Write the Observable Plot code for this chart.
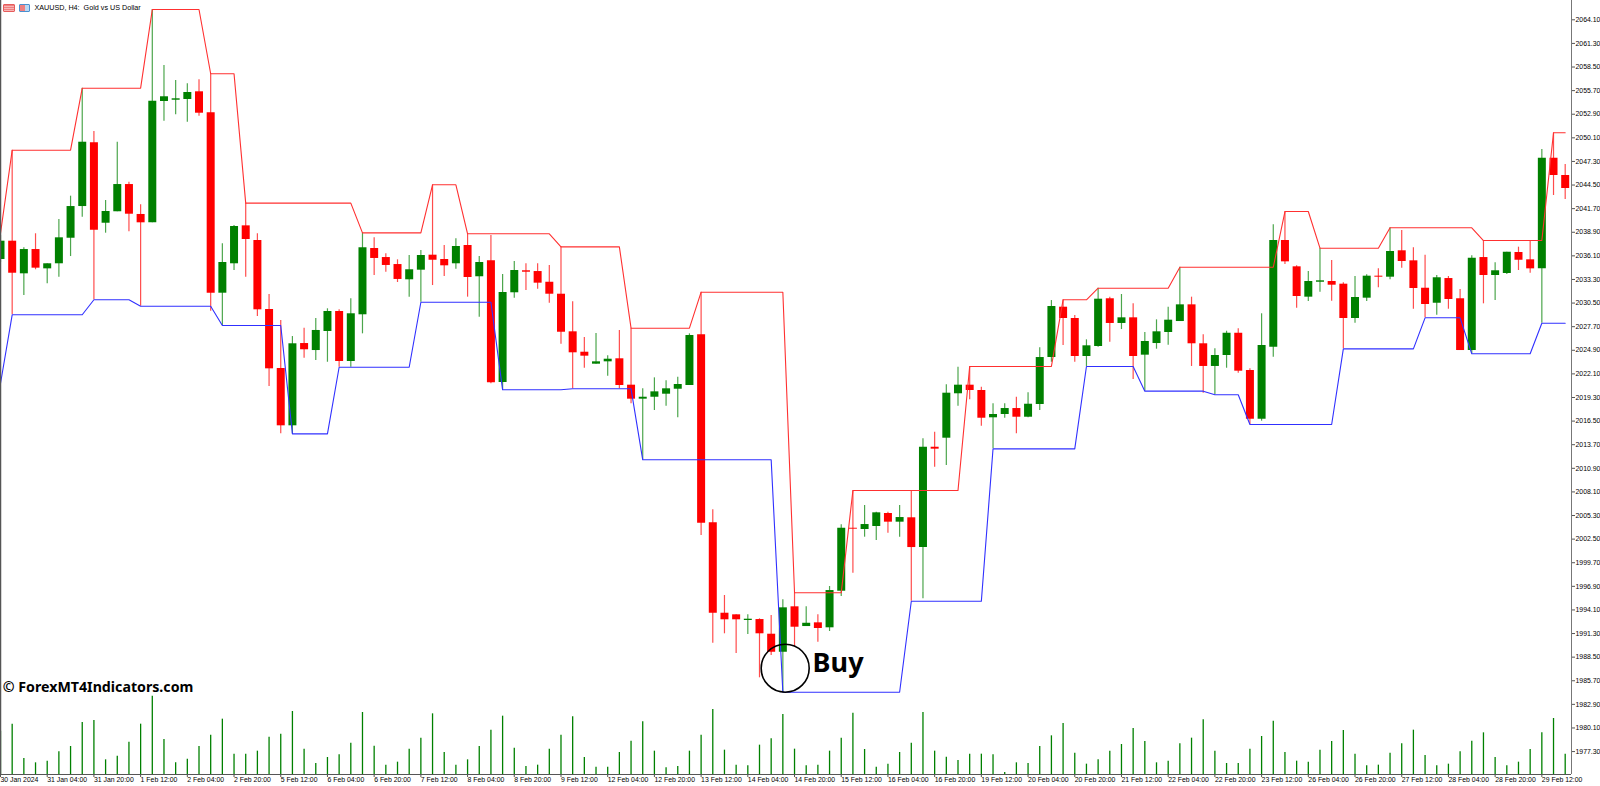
<!DOCTYPE html>
<html><head><meta charset="utf-8">
<script src="https://cdn.jsdelivr.net/npm/d3@7"></script>
<script src="https://cdn.jsdelivr.net/npm/@observablehq/plot@0.6"></script>
<style>
html,body{margin:0;padding:0;background:#fff;overflow:hidden}
#wrap{position:relative;width:1600px;height:786px}
#wrap svg{display:block}
.ico{position:absolute;top:4px;height:8px;border-radius:1px;background:repeating-linear-gradient(180deg,#ef7f7f 0 1px,#f7b5b5 1px 2px);border:1px solid #e65c5c;box-sizing:border-box}
.ico.b{border-color:#4a90d0;background:linear-gradient(90deg,#ef7f7f 0 50%,#bcd8f2 50% 100%)}
</style></head><body>
<div id="wrap"><div class="ico" style="left:3px;width:12px"></div><div class="ico b" style="left:19px;width:11px"></div></div>
<script>
const opens=[2035.67,2037.84,2033.97,2036.85,2034.56,2035.16,2038.19,2041.95,2049.51,2039.97,2041.33,2044.56,2041.01,2040.02,2054.41,2054.56,2054.65,2055.56,2053.07,2031.67,2035.16,2039.66,2037.92,2029.74,2022.74,2015.94,2025.70,2024.87,2027.13,2029.50,2023.57,2029.11,2036.97,2035.90,2035.07,2033.26,2034.40,2036.18,2035.67,2035.16,2037.33,2033.62,2035.51,2021.08,2031.72,2034.33,2034.24,2032.97,2031.55,2027.09,2024.67,2023.25,2023.53,2023.89,2020.76,2019.10,2019.33,2019.69,2020.28,2020.72,2026.74,2004.43,1993.71,1993.52,1992.85,1992.96,1991.22,1989.08,1994.47,1992.13,1992.57,1991.98,1996.32,2003.79,2003.64,2004.00,2005.54,2004.51,2005.03,2001.50,2013.40,2014.47,2019.74,2020.76,2020.13,2016.89,2017.28,2017.99,2016.96,2018.47,2024.04,2030.01,2028.67,2024.16,2025.35,2031.01,2028.08,2028.75,2024.32,2025.70,2027.01,2028.31,2030.29,2025.67,2022.98,2024.28,2026.92,2022.50,2016.72,2025.26,2037.92,2034.80,2031.20,2032.97,2033.06,2032.74,2028.67,2031.08,2033.69,2033.57,2036.70,2035.51,2032.26,2030.48,2033.41,2031.01,2024.87,2035.90,2033.77,2034.01,2036.50,2035.63,2034.56,2047.68,2045.63];
const closes=[2037.84,2034.04,2036.85,2034.64,2035.16,2038.24,2041.95,2049.58,2039.14,2041.36,2044.56,2041.04,2040.02,2054.44,2054.97,2054.73,2055.48,2053.02,2031.67,2035.31,2039.58,2038.04,2029.70,2022.70,2015.94,2025.67,2024.96,2027.25,2029.50,2023.57,2029.23,2037.06,2035.79,2034.96,2033.30,2034.45,2036.14,2035.58,2034.92,2037.21,2033.53,2035.31,2021.04,2031.75,2034.36,2034.16,2032.86,2031.55,2027.04,2024.60,2024.20,2023.53,2023.84,2020.72,2019.10,2019.33,2019.97,2020.33,2020.84,2026.65,2004.39,1993.71,1992.93,1992.93,1993.00,1991.27,1989.08,1994.35,1992.05,1992.52,1991.90,1996.40,2003.79,2003.68,2004.23,2005.62,2004.51,2005.06,2001.50,2013.40,2013.17,2019.81,2020.76,2020.13,2016.84,2017.28,2017.99,2016.96,2018.50,2024.04,2030.09,2028.67,2024.16,2025.43,2030.96,2028.08,2028.75,2024.16,2025.94,2027.09,2028.47,2030.29,2025.67,2022.98,2024.28,2026.92,2022.42,2016.72,2025.47,2037.92,2035.39,2031.28,2033.06,2033.14,2032.62,2028.67,2031.16,2033.69,2033.57,2036.62,2035.43,2032.23,2030.33,2033.50,2030.92,2024.87,2035.82,2033.77,2034.33,2036.53,2035.58,2034.56,2047.68,2045.63,2044.09];
const highs=[2038.51,2048.63,2037.06,2038.72,2035.16,2040.41,2043.18,2055.99,2050.85,2042.67,2049.58,2044.84,2042.16,2065.32,2058.68,2056.90,2056.51,2056.98,2057.70,2037.53,2039.70,2042.35,2038.72,2031.52,2028.43,2026.53,2027.52,2028.67,2029.82,2029.70,2031.01,2038.83,2038.24,2036.34,2035.63,2036.14,2036.73,2044.53,2037.33,2038.12,2038.72,2036.02,2038.51,2033.89,2035.43,2035.16,2035.16,2034.96,2037.17,2030.65,2026.42,2026.89,2024.24,2027.25,2027.52,2020.33,2021.63,2021.28,2021.71,2026.85,2031.79,2005.98,1995.81,1993.52,1993.52,1993.05,1993.44,1995.30,1996.13,1994.47,1993.52,1996.88,2004.20,2008.27,2006.49,2005.69,2005.69,2006.49,2008.27,2014.40,2015.18,2020.80,2022.89,2022.98,2020.52,2018.55,2018.55,2019.33,2019.86,2025.19,2030.80,2030.89,2029.02,2026.14,2032.26,2031.20,2031.52,2030.41,2027.01,2028.51,2030.01,2034.75,2031.20,2026.74,2025.07,2027.16,2027.45,2022.70,2029.23,2039.78,2041.36,2034.92,2034.24,2037.01,2035.55,2032.90,2033.65,2033.85,2034.56,2039.43,2039.11,2037.06,2036.18,2033.77,2033.65,2032.11,2036.11,2037.92,2035.28,2036.53,2037.13,2037.92,2048.72,2050.70,2046.94];
const lows=[2035.31,2029.11,2031.40,2034.45,2032.79,2033.57,2036.02,2040.68,2030.89,2038.79,2041.33,2038.95,2030.13,2040.02,2052.07,2052.83,2051.95,2052.67,2029.53,2027.84,2034.36,2033.57,2028.91,2020.60,2014.99,2014.99,2023.96,2023.69,2023.48,2022.89,2022.89,2026.85,2033.77,2034.16,2032.94,2031.20,2030.60,2032.58,2033.65,2034.52,2031.20,2028.82,2020.92,2020.21,2031.08,2031.99,2032.14,2030.48,2025.62,2020.33,2022.77,2023.25,2021.82,2020.33,2018.55,2011.91,2017.76,2018.27,2016.89,2020.72,2002.93,1990.15,1991.27,1988.93,1991.18,1986.05,1988.69,1984.34,1989.68,1992.13,1990.27,1991.54,1995.69,1998.46,2002.73,2002.34,2003.20,2002.73,1995.13,1995.42,2011.03,2011.23,2018.27,2019.02,2015.89,2013.21,2016.84,2014.99,2016.89,2017.76,2023.48,2025.47,2023.48,2022.98,2025.26,2025.86,2027.36,2021.43,2020.05,2025.03,2025.50,2028.31,2022.98,2019.81,2019.62,2022.77,2022.18,2016.10,2016.49,2024.08,2035.07,2029.89,2030.69,2031.79,2030.72,2025.07,2028.11,2030.69,2032.31,2033.26,2034.64,2029.77,2028.75,2029.06,2029.77,2024.87,2024.48,2030.41,2030.80,2033.89,2034.36,2034.04,2028.11,2043.26,2042.78];
const volumes=[1300,1510,480,350,400,680,840,1560,1620,440,550,970,1510,2350,1050,350,460,840,1180,1660,610,610,700,1120,1210,1890,760,330,510,590,940,1860,850,280,370,760,1090,1820,660,280,440,840,1330,1750,790,240,280,760,1180,1730,510,220,220,660,1000,1580,700,200,240,700,1180,1950,730,280,260,880,1070,1800,760,260,280,700,1090,1840,750,220,310,660,940,1860,700,520,420,610,610,590,60,350,330,840,1160,1530,640,310,440,700,900,1380,990,350,400,920,1090,1640,700,330,330,760,1140,1600,660,400,370,730,990,1320,610,260,280,640,920,1330,570,260,310,680,1000,1250,510,260,370,750,1250,1680,610];
const upperValues=[2038.75,2048.63,2055.99,2065.32,2057.70,2042.35,2038.83,2044.53,2038.72,2037.17,2027.52,2031.79,1996.13,2008.27,2022.98,2030.89,2032.26,2034.75,2041.36,2037.01,2039.43,2037.92,2050.70];
const upperRuns=[1,6,6,5,3,10,6,3,8,6,6,8,5,10,8,3,7,9,3,6,8,6,2];
const lowerValues=[2020.96,2029.11,2030.89,2030.13,2027.84,2014.99,2022.89,2030.60,2020.21,2020.33,2011.91,1984.34,1995.13,2013.21,2022.98,2020.05,2019.62,2016.10,2025.07,2028.75,2024.48,2028.11];
const lowerRuns=[1,7,4,7,6,4,7,7,6,6,12,11,7,8,5,6,3,8,7,4,6,3];
const priceTicks=[2064.1,2061.3,2058.5,2055.7,2052.9,2050.1,2047.3,2044.5,2041.7,2038.9,2036.1,2033.3,2030.5,2027.7,2024.9,2022.1,2019.3,2016.5,2013.7,2010.9,2008.1,2005.3,2002.5,1999.7,1996.9,1994.1,1991.3,1988.5,1985.7,1982.9,1980.1,1977.3];
const timeLabels=["30 Jan 2024","31 Jan 04:00","31 Jan 20:00","1 Feb 12:00","2 Feb 04:00","2 Feb 20:00","5 Feb 12:00","6 Feb 04:00","6 Feb 20:00","7 Feb 12:00","8 Feb 04:00","8 Feb 20:00","9 Feb 12:00","12 Feb 04:00","12 Feb 20:00","13 Feb 12:00","14 Feb 04:00","14 Feb 20:00","15 Feb 12:00","16 Feb 04:00","16 Feb 20:00","19 Feb 12:00","20 Feb 04:00","20 Feb 20:00","21 Feb 12:00","22 Feb 04:00","22 Feb 20:00","23 Feb 12:00","26 Feb 04:00","26 Feb 20:00","27 Feb 12:00","28 Feb 04:00","28 Feb 20:00","29 Feb 12:00"];
const expand=(v,r)=>v.flatMap((x,k)=>Array(r[k]).fill(x));
const upper=expand(upperValues,upperRuns), lower=expand(lowerValues,lowerRuns);
const bars=opens.map((o,i)=>({i,open:o,close:closes[i],high:highs[i],low:lows[i],vol:volumes[i],upper:upper[i],lower:lower[i],up:closes[i]>=o}));
const upBars=bars.filter(d=>d.up), downBars=bars.filter(d=>!d.up);
const priceLow=1974.58, priceHigh=2066.39, barMax=134.54, priceVolume=0.003954;
const GREEN="#008000", RED="#ff0000", FONT="'Liberation Sans',sans-serif";
const chart=Plot.plot({
  width:1600,height:786,marginLeft:0,marginRight:29,marginTop:0,marginBottom:12,
  style:{fontFamily:FONT,background:"#fff",color:"#000"},
  x:{type:"linear",domain:[0,barMax],axis:null},
  y:{domain:[priceLow,priceHigh],axis:null},
  marks:[
    Plot.ruleX(bars,{x:"i",y1:priceLow,y2:d=>priceLow+d.vol*priceVolume,stroke:GREEN,strokeWidth:1.3}),
    Plot.ruleX(upBars,{x:"i",y1:"low",y2:"high",stroke:GREEN,strokeWidth:1.2,strokeOpacity:.7}),
    Plot.ruleX(downBars,{x:"i",y1:"low",y2:"high",stroke:RED,strokeWidth:1.2,strokeOpacity:.7}),
    Plot.ruleX(upBars,{x:"i",y1:"open",y2:"close",stroke:GREEN,strokeWidth:8}),
    Plot.ruleX(downBars,{x:"i",y1:"open",y2:"close",stroke:RED,strokeWidth:8}),
    Plot.line(bars,{x:"i",y:"upper",stroke:"#ff3030",strokeWidth:1.1,curve:"linear"}),
    Plot.line(bars,{x:"i",y:"lower",stroke:"#3030ff",strokeWidth:1.1,curve:"linear"}),
    Plot.dot([{i:67.2,price:1987.19}],{x:"i",y:"price",r:24,stroke:"#000",strokeWidth:1.6,fill:"none"}),
    Plot.text(["Buy"],{x:()=>69.55,y:()=>1987.74,text:d=>d,textAnchor:"start",fontFamily:"'Noto Sans'",fontWeight:700,fontSize:27,fill:"#000"}),
    Plot.text(["© ForexMT4Indicators.com"],{x:()=>0.2,y:()=>1984.94,text:d=>d,textAnchor:"start",fontFamily:"'Noto Sans'",fontWeight:700,fontSize:14.2,fill:"#000"}),
    Plot.text(["XAUUSD, H4:  Gold vs US Dollar"],{x:()=>2.91,y:()=>2065.48,text:d=>d,textAnchor:"start",fontSize:7.2,fill:"#000"}),
    Plot.ruleX([0],{stroke:"#555",strokeWidth:1.5}),
    Plot.ruleX([barMax],{stroke:"#777",strokeWidth:1}),
    Plot.ruleY([priceLow],{stroke:"#555",strokeWidth:1}),
    Plot.axisY({anchor:"right",ticks:priceTicks,tickFormat:d=>d.toFixed(2),tickSize:3,tickPadding:1,fontSize:6.9,label:null,stroke:"#555"}),
    Plot.axisX({anchor:"bottom",ticks:timeLabels.map((_,k)=>k*4),tickFormat:d=>timeLabels[d/4],tickSize:3,tickPadding:0,textAnchor:"start",fontSize:6.9,label:null,stroke:"#555"})
  ]
});
document.getElementById("wrap").prepend(chart);
</script>
</body></html>
